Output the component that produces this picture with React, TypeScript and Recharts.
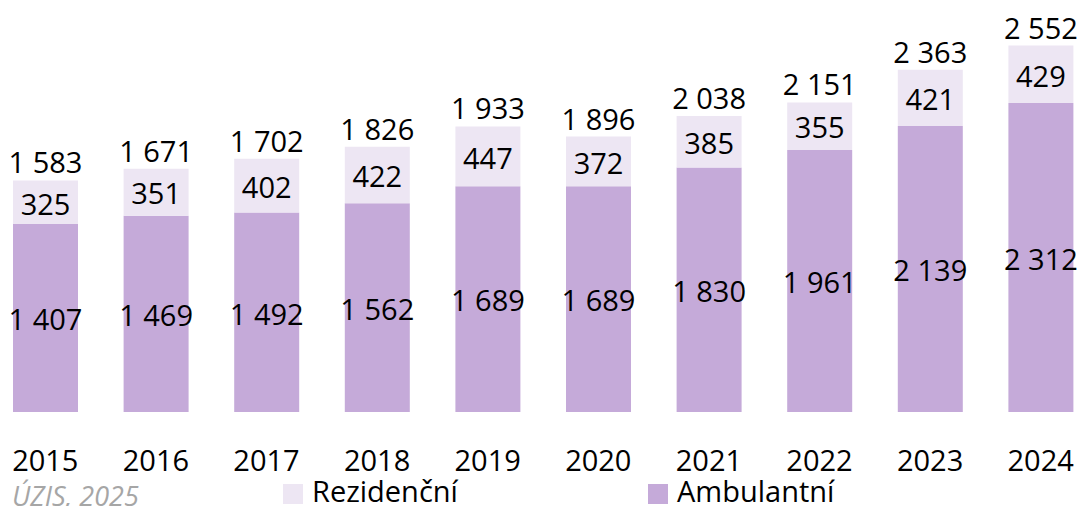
import { BarChart, Bar, XAxis, YAxis, LabelList } from "recharts";

const years = ["2015", "2016", "2017", "2018", "2019", "2020", "2021", "2022", "2023", "2024"];
const ambulantni = [1407, 1469, 1492, 1562, 1689, 1689, 1830, 1961, 2139, 2312];
const rezidencni = [325, 351, 402, 422, 447, 372, 385, 355, 421, 429];
// unique patients – printed above the bars, not the stacked sum
const totals = [1583, 1671, 1702, 1826, 1933, 1896, 2038, 2151, 2363, 2552];

const AMB = "#c5aad9";
const REZ = "#ede6f3";
const FONT = "'Open Sans', 'Noto Sans', sans-serif";
const FS = 29;

const fmt = (v: number) => String(v).replace(/\B(?=(\d{3})+(?!\d))/g, " ");

const data = years.map((y, i) => ({
  year: y,
  amb: ambulantni[i],
  rez: rezidencni[i],
  total: totals[i],
}));

const labelStyle = { fill: "#000", fontSize: FS, fontFamily: FONT };

export default function App() {
  return (
    <div
      style={{
        position: "absolute",
        left: 0,
        top: 0,
        width: 1083,
        height: 506,
        overflow: "hidden",
        background: "#fff",
        fontFamily: FONT,
      }}
    >
      <div style={{ position: "absolute", left: -10, top: 0 }}>
        <BarChart
          width={1106}
          height={506}
          data={data}
          margin={{ top: 11, right: 0, bottom: 34, left: 0 }}
          barSize={65}
        >
          <YAxis hide domain={[0, 3000]} />
          <XAxis
            dataKey="year"
            axisLine={false}
            tickLine={false}
            height={60}
            tickMargin={32}
            tick={{ fill: "#000", fontSize: FS, fontFamily: FONT }}
            interval={0}
          />
          <Bar dataKey="amb" stackId="a" fill={AMB} isAnimationActive={false}>
            <LabelList
              dataKey="amb"
              position="center"
              formatter={(v: number) => fmt(v)}
              dy={2}
              style={labelStyle}
            />
          </Bar>
          <Bar dataKey="rez" stackId="a" fill={REZ} isAnimationActive={false}>
            <LabelList
              dataKey="rez"
              position="center"
              formatter={(v: number) => fmt(v)}
              dy={2}
              style={labelStyle}
            />
            <LabelList
              dataKey="total"
              position="top"
              offset={7}
              formatter={(v: number) => fmt(v)}
              style={labelStyle}
            />
          </Bar>
        </BarChart>
      </div>
      <div
        style={{
          position: "absolute",
          left: 12,
          top: 481,
          fontSize: 27,
          fontStyle: "italic",
          color: "#a6a6a6",
          lineHeight: "30px",
        }}
      >
        ÚZIS, 2025
      </div>
      {[
        { name: "Rezidenční", color: REZ, x: 283 },
        { name: "Ambulantní", color: AMB, x: 648 },
      ].map((it) => (
        <div key={it.name} style={{ position: "absolute", left: it.x, top: 475, display: "flex", alignItems: "center" }}>
          <div style={{ width: 20, height: 20, background: it.color, marginTop: 6 }} />
          <span style={{ marginLeft: 9, fontSize: FS, color: "#000", lineHeight: "32px" }}>{it.name}</span>
        </div>
      ))}
    </div>
  );
}
